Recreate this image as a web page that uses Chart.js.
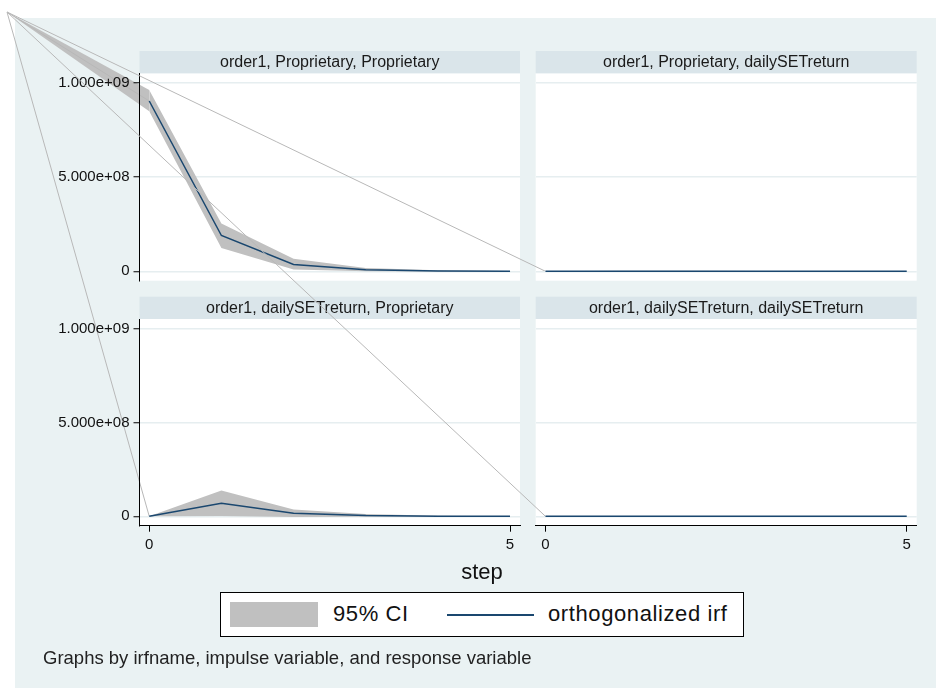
<!DOCTYPE html>
<html>
<head>
<meta charset="utf-8">
<script src="https://cdn.jsdelivr.net/npm/chart.js@4.4.0/dist/chart.umd.min.js"></script>
<style>
   body { margin: 0; width: 936px; height: 688px; background: #ffffff; position: relative; overflow: hidden; font-family: "Liberation Sans", Arial, sans-serif; }
   #bg { position: absolute; left: 15px; top: 18px; width: 921px; height: 670px; background: #eaf2f3; }
   canvas { position: absolute; left: 0; top: 0; }
   #xtitle { position: absolute; left: 382px; width: 200px; top: 559px; text-align: center; font-size: 22px; color: #111; }
   #legend { position: absolute; left: 220px; top: 592px; width: 522px; height: 43px; background: #fff; border: 1px solid #000; }
   #legend .swatch { position: absolute; left: 9px; top: 9px; width: 88px; height: 25px; background: #c0c0c0; }
   #legend .lineKey { position: absolute; left: 226px; top: 21px; width: 87px; height: 2px; background: #1a476f; }
   #legend span { position: absolute; top: 8px; font-size: 22px; letter-spacing: 0.6px; color: #111; }
   #note { position: absolute; left: 43px; top: 647px; font-size: 18.5px; color: #222; }
</style>
</head>
<body>
<div id="bg"></div>
<canvas id="p1" width="936" height="688"></canvas>
<canvas id="p2" width="936" height="688"></canvas>
<canvas id="p3" width="936" height="688"></canvas>
<canvas id="p4" width="936" height="688"></canvas>
<div id="xtitle">step</div>
<div id="legend">
   <div class="swatch"></div>
   <span style="left: 112px;">95% CI</span>
   <div class="lineKey"></div>
   <span style="left: 327px;">orthogonalized irf</span>
</div>
<div id="note">Graphs by irfname, impulse variable, and response variable</div>

<script>
// data (irf by step, with 95% band)
const steps = [0, 1, 2, 3, 4, 5];
const xTicks = [0, 5];
const yTicks = [0, 5e8, 1e9];
const yTickLabels = ["0", "5.000e+08", "1.000e+09"];

const titlePropProp = "order1, Proprietary, Proprietary";
const titlePropSet = "order1, Proprietary, dailySETreturn";
const titleSetProp = "order1, dailySETreturn, Proprietary";
const titleSetSet = "order1, dailySETreturn, dailySETreturn";

const irfPropProp = [9.04e8, 1.9e8, 3.6e7, 8e6, 2e6, 5e5];
const lowPropProp = [8.5e8, 1.24e8, 9e6, 0, -1e6, -5e5];
const highPropProp = [9.62e8, 2.53e8, 6.6e7, 1.8e7, 5e6, 1.5e6];

const irfPropSet = [0, 0, 0, 0, 0, 0];
const lowPropSet = [0, -3e6, -3e6, -2e6, -1e6, -1e6];
const highPropSet = [0, 3e6, 3e6, 2e6, 1e6, 1e6];

const irfSetProp = [0, 6.9e7, 1.6e7, 4e6, 1e6, 3e5];
const lowSetProp = [0, 2e6, -3e6, -2e6, -1e6, -3e5];
const highSetProp = [0, 1.37e8, 3.6e7, 1.2e7, 3e6, 1e6];

const irfSetSet = [0, 0, 0, 0, 0, 0];
const lowSetSet = [0, 0, 0, 0, 0, 0];
const highSetSet = [0, 0, 0, 0, 0, 0];

const navy = "#1a476f";
const ciGrey = "#c0c0c0";
const font = "'Liberation Sans', Arial, sans-serif";

function pts(arr) {
   return steps.map((s, i) => ({ x: s, y: arr[i] }));
}

// white plot region, the title strip above it, and the stray
// strokes the reference has from each path back to the page corner
const panelFrame = {
   id: "panelFrame",
   beforeDraw(chart) {
      const a = chart.chartArea;
      const c = chart.ctx;
      c.save();
      c.fillStyle = "#ffffff";
      c.fillRect(a.left, a.top, a.right - a.left, a.bottom - a.top);
      c.fillStyle = "#dae5ea";
      c.fillRect(a.left, a.top - 22.3, a.right - a.left, 22.3);
      c.fillStyle = "#1a1a1a";
      c.font = "16px " + font;
      c.textAlign = "center";
      c.textBaseline = "middle";
      c.fillText(chart.options.plugins.panelFrame.title, (a.left + a.right) / 2, a.top - 10.5);

      const ln = chart.getDatasetMeta(0).data[0];
      const lo = chart.getDatasetMeta(1).data[0];
      const hi = chart.getDatasetMeta(2).data[0];
      c.fillStyle = ciGrey;
      c.beginPath();
      c.moveTo(7, 12);
      c.lineTo(hi.x, hi.y);
      c.lineTo(lo.x, lo.y);
      c.closePath();
      c.fill();
      c.strokeStyle = "#b8b8b8";
      c.lineWidth = 1;
      c.beginPath();
      c.moveTo(7, 12);
      c.lineTo(ln.x, ln.y);
      c.stroke();
      c.restore();
   },
};

function makePanel(id, title, irf, low, high, area, showY, showX) {
   const ctx = document.getElementById(id).getContext("2d");
   return new Chart(ctx, {
      type: "line",
      data: {
         datasets: [
            { data: pts(irf), borderColor: navy, borderWidth: 1.5, pointRadius: 0, fill: false },
            { data: pts(low), borderWidth: 0, pointRadius: 0, fill: false, backgroundColor: ciGrey },
            { data: pts(high), borderWidth: 0, pointRadius: 0, fill: "-1", backgroundColor: ciGrey },
         ],
      },
      options: {
         responsive: false,
         animation: false,
         events: [],
         layout: {
            padding: {
               left: showY ? 0 : area.left,
               top: area.top,
               right: 936 - area.right,
               bottom: showX ? 688 - area.bottom - 40 : 688 - area.bottom,
            },
         },
         plugins: {
            legend: { display: false },
            tooltip: { enabled: false },
            panelFrame: { title: title },
         },
         scales: {
            x: {
               type: "linear",
               min: -0.135,
               max: 5.138,
               display: showX,
               afterBuildTicks: (axis) => {
                  axis.ticks = xTicks.map((v) => ({ value: v }));
               },
               afterFit: (axis) => {
                  axis.height = showX ? 40 : 0;
               },
               border: { display: true, color: "#000", width: 1 },
               grid: { drawOnChartArea: false, tickColor: "#000", tickLength: 6, tickWidth: 1 },
               ticks: { color: "#111", font: { family: font, size: 15 }, padding: 4, maxRotation: 0 },
            },
            y: {
               type: "linear",
               min: -5.0e7,
               max: 1.051e9,
               afterBuildTicks: (axis) => {
                  axis.ticks = yTicks.map((v) => ({ value: v }));
               },
               afterFit: (axis) => {
                  axis.width = showY ? area.left : 0;
               },
               border: { display: showY, color: "#000", width: 1 },
               grid: {
                  color: "#e6eef0",
                  lineWidth: 1.5,
                  drawTicks: showY,
                  tickColor: "#000",
                  tickLength: 6,
                  tickWidth: 1,
               },
               ticks: {
                  display: showY,
                  color: "#111",
                  font: { family: font, size: 15 },
                  padding: 4,
                  callback: (v) => yTickLabels[yTicks.indexOf(v)],
               },
            },
         },
      },
      plugins: [panelFrame],
   });
}

const leftArea = { left: 139.5, right: 520 };
const rightArea = { left: 535.7, right: 916.7 };
const topRow = { top: 73.3, bottom: 280.7 };
const bottomRow = { top: 319, bottom: 525.7 };

makePanel("p1", titlePropProp, irfPropProp, lowPropProp, highPropProp, { ...leftArea, ...topRow }, true, false);
makePanel("p2", titlePropSet, irfPropSet, lowPropSet, highPropSet, { ...rightArea, ...topRow }, false, false);
makePanel("p3", titleSetProp, irfSetProp, lowSetProp, highSetProp, { ...leftArea, ...bottomRow }, true, true);
makePanel("p4", titleSetSet, irfSetSet, lowSetSet, highSetSet, { ...rightArea, ...bottomRow }, false, true);
</script>
</body>
</html>
